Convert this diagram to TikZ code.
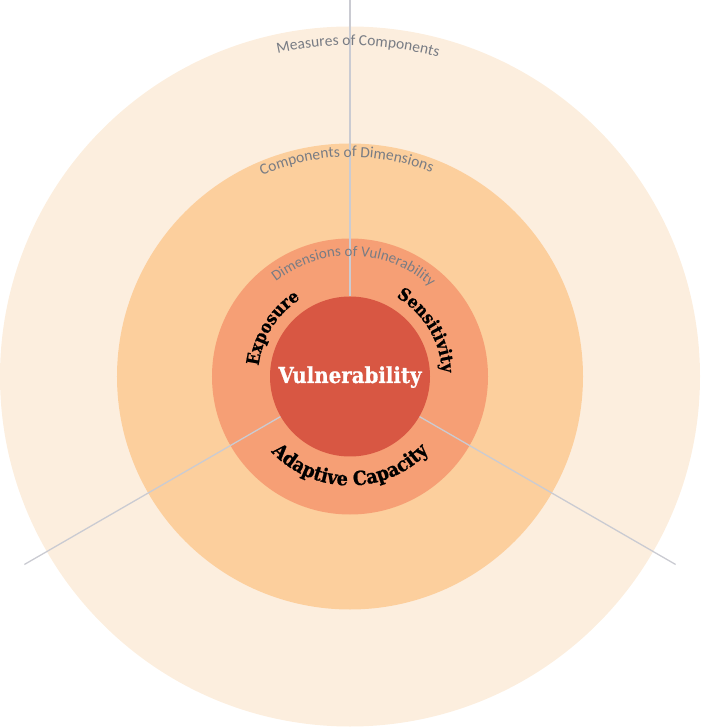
\documentclass[tikz,border=0pt]{standalone}
\usepackage{fontspec}
\setmainfont{Liberation Serif}
\newfontfamily\lblfont{Carlito}
\newfontfamily\heavyfont{DejaVu Serif Condensed}[BoldFeatures={FakeBold=0.8}]
\usetikzlibrary{decorations.text}
\definecolor{outerc}{RGB}{252,238,222}
\definecolor{midc}{RGB}{252,207,157}
\definecolor{ringc}{RGB}{246,159,117}
\definecolor{corec}{RGB}{216,87,67}
\definecolor{linec}{RGB}{202,203,210}
\definecolor{lblc}{RGB}{120,124,132}
\tikzset{
  disc/.style={circle, draw=none, inner sep=0pt, outer sep=0pt},
  spoke/.style={draw=linec, line width=1.3pt},
}
\begin{document}
\begin{tikzpicture}[x=1pt,y=1pt]
\useasboundingbox (-350,-350.5) rectangle (351,376.5);
\node[disc, fill=outerc, minimum size=700pt] (outer) at (0,0) {};
\node[disc, fill=midc, minimum size=466pt] (middle) at (0,0) {};
\node[disc, fill=ringc, minimum size=276pt] (ring) at (0,0) {};
\node[disc, minimum size=160pt] (coreb) at (0,0) {};
\coordinate (top) at (90:376.5);
\coordinate (bl) at (210:376);
\coordinate (br) at (330:376);
\draw[spoke] (coreb.90) -- (top);
\draw[spoke] (coreb.210) -- (bl);
\draw[spoke] (coreb.330) -- (br);
\node[disc, fill=corec, minimum size=160pt] (core) at (0,0) {};
\node[text=white, font=\heavyfont\bfseries\fontsize{22}{26}\selectfont, anchor=base] (vul) at (0,-6.5) {Vulnerability};
% gray ring labels
\path[decorate, decoration={text along path, text align=center,
  text={|\lblfont\fontsize{15.5}{17}\selectfont\color{lblc}|Measures of Components}}]
  (178.6:331) arc[start angle=178.6, end angle=-1.4, radius=331];
\path[decorate, decoration={text along path, text align=center,
  text={|\lblfont\fontsize{15.5}{17}\selectfont\color{lblc}|Components of Dimensions}}]
  (180.9:219.5) arc[start angle=180.9, end angle=0.9, radius=219.5];
\path[decorate, decoration={text along path, text align=center,
  text={|\lblfont\fontsize{15}{17}\selectfont\color{lblc}|Dimensions of Vulnerability}}]
  (178:120.5) arc[start angle=178, end angle=-2, radius=120.5];
% dimension labels
\path[decorate, decoration={text along path, text align=center,
  text={|\heavyfont\bfseries\fontsize{17.5}{20}\selectfont|Exposure}}]
  (208:92) arc[start angle=208, end angle=88, radius=92];
\path[decorate, decoration={text along path, text align=center,
  text={|\heavyfont\bfseries\fontsize{17.5}{20}\selectfont|Sensitivity}}]
  (91:92) arc[start angle=91, end angle=-29, radius=92];
\path[decorate, decoration={text along path, text align=center,
  text={|\heavyfont\bfseries\fontsize{19.5}{22}\selectfont|Adaptive Capacity}}]
  (180:109) arc[start angle=180, end angle=360, radius=109];
\end{tikzpicture}
\end{document}
